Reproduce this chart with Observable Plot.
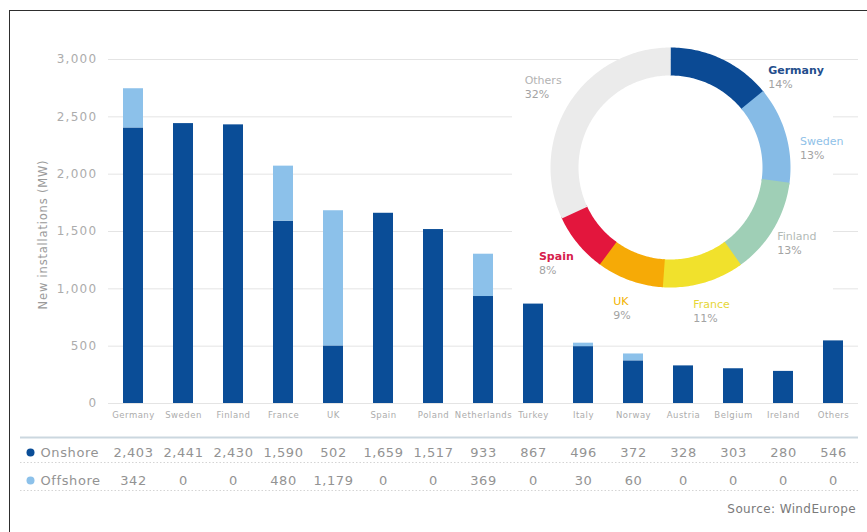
<!DOCTYPE html>
<html>
<head>
<meta charset="utf-8">
<script src="https://cdn.jsdelivr.net/npm/d3@7"></script>
<script src="https://cdn.jsdelivr.net/npm/@observablehq/plot@0.6"></script>
<style>
  html, body { margin: 0; padding: 0; background: #fff; }
  #wrap { position: relative; width: 867px; height: 532px; overflow: hidden; background: #fff; font-family: "DejaVu Sans", sans-serif; }
  #frame { position: absolute; left: 9px; top: 10px; width: 900px; height: 600px; border-top: 1.5px solid #2e2e2e; border-left: 1.5px solid #2e2e2e; pointer-events: none; z-index: 10; }
  #bars { position: absolute; left: 0; top: 0; z-index: 1; }
  #mask { position: absolute; left: 512px; top: 64px; width: 321px; height: 232px; background: #fff; z-index: 2; }
  #donut { position: absolute; left: 500px; top: 17px; z-index: 3; }
  #table { position: absolute; left: 0; top: 430px; z-index: 1; }
  #source { position: absolute; right: 11px; top: 502px; font-size: 12px; color: #7a7a7a; letter-spacing: 0.4px; z-index: 4; }
  #bars g[aria-label="y-axis tick label"] text { letter-spacing: 1.3px; }
  #bars g[aria-label="x-axis tick label"] text { letter-spacing: 0.5px; }
  #bars g[aria-label="text"] text { letter-spacing: 0.8px; }
  #table text { letter-spacing: 0.6px; }
  svg { overflow: visible; }
</style>
</head>
<body>
<div id="wrap">
  <div id="bars"></div>
  <div id="table"></div>
  <div id="mask"></div>
  <div id="donut"></div>
  <div id="source">Source: WindEurope</div>
  <div id="frame"></div>
</div>
<script>
// ---------- data ----------
const countries = ["Germany", "Sweden", "Finland", "France", "UK", "Spain", "Poland", "Netherlands", "Turkey", "Italy", "Norway", "Austria", "Belgium", "Ireland", "Others"];
const onshore  = [2403, 2441, 2430, 1590, 502, 1659, 1517, 933, 867, 496, 372, 328, 303, 280, 546];
const offshore = [342, 0, 0, 480, 1179, 0, 0, 369, 0, 30, 60, 0, 0, 0, 0];
const seriesNames = ["Onshore", "Offshore"];
const yTicks = [0, 500, 1000, 1500, 2000, 2500, 3000];
const yLabel = "New installations (MW)";

const shareCountries = ["Germany", "Sweden", "Finland", "France", "UK", "Spain", "Others"];
const sharePct = [14, 13, 13, 11, 9, 8, 32];

// ---------- styles ----------
const seriesColors = ["#0a4d97", "#8cc1ea"];
const ringColors  = ["#0b4a94", "#86bbe6", "#9fcfb6", "#f1e12c", "#f6aa06", "#e3163d", "#ebebeb"];
const labelColors = ["#234d8c", "#8fc1e8", "#b2bab6", "#e6d636", "#f2b300", "#d6204c", "#b3b3b3"];
const boldLabels = new Set(["Germany", "Spain"]);
const labelAngleNudge = {Germany: 28, Sweden: 9};
const FONT = "DejaVu Sans, sans-serif";
const fmt = d3.format(",");

const table = countries.flatMap((c, i) => [
  {country: c, type: seriesNames[0], value: onshore[i]},
  {country: c, type: seriesNames[1], value: offshore[i]}
]);

const xScale = {domain: countries, paddingInner: 0.6, paddingOuter: 0.3, align: 0.5};

// ---------- bar chart ----------
const bars = Plot.plot({
  width: 867, height: 430,
  marginLeft: 108, marginRight: 9, marginTop: 59, marginBottom: 27,
  style: {background: "transparent", fontFamily: FONT},
  x: {...xScale, label: null},
  y: {domain: [0, 3000], label: null},
  color: {domain: seriesNames, range: seriesColors},
  marks: [
    Plot.gridY(yTicks, {stroke: "#e4e4e4", strokeOpacity: 1, strokeWidth: 1}),
    Plot.barY(table, {x: "country", y: "value", fill: "type"}),
    Plot.axisY(yTicks, {tickSize: 0, tickPadding: 11, tickFormat: fmt, fontSize: 12, fill: "#acacac", label: null}),
    Plot.axisX({tickSize: 0, tickPadding: 8, fontSize: 8.5, fill: "#acacac", label: null}),
    Plot.text([yLabel], {frameAnchor: "left", dx: -65, dy: 3, rotate: -90, textAnchor: "middle", text: d => d, fontSize: 11.5, fill: "#9a9a9a"})
  ]
});
document.getElementById("bars").appendChild(bars);

// ---------- table ----------
const tbl = Plot.plot({
  width: 867, height: 102,
  marginLeft: 20, marginRight: 9, marginTop: 0, marginBottom: 0,
  style: {background: "transparent", fontFamily: FONT},
  x: {...xScale, range: [108, 858], axis: null},
  y: {type: "point", domain: seriesNames, range: [22, 50], padding: 0, axis: null},
  color: {domain: seriesNames, range: seriesColors},
  marks: [
    Plot.ruleY([seriesNames[0]], {y: d => d, dy: -15, stroke: "#cbd7df", strokeWidth: 2}),
    Plot.ruleY(seriesNames, {y: d => d, dy: 10, stroke: "#d4d4d4", strokeDasharray: "1.5,2"}),
    Plot.dot(seriesNames, {y: d => d, frameAnchor: "left", dx: 10, r: 4, fill: d => d, stroke: null}),
    Plot.text(seriesNames, {y: d => d, frameAnchor: "left", dx: 20, textAnchor: "start", text: d => d, fill: "#939393", fontSize: 13}),
    Plot.text(table, {x: "country", y: "type", text: d => fmt(d.value), fill: "#939393", fontSize: 13})
  ]
});
document.getElementById("table").appendChild(tbl);

// ---------- donut ----------
const total = d3.sum(sharePct);
let acc = 0;
const segs = shareCountries.map((c, i) => {
  const s = acc / total; acc += sharePct[i];
  return {c, i, s, e: acc / total};
});
const R_MID = 106, RING_W = 28, LABEL_R = 150;
const arcPts = segs.flatMap(g => {
  const ext = g.i < segs.length - 1 ? 0.003 : 0;
  const n = Math.max(2, Math.ceil((g.e - g.s) * 360));
  return d3.range(n + 1).map(k => {
    const a = 2 * Math.PI * (g.s + (g.e + ext - g.s) * k / n);
    return {c: g.c, i: g.i, x: R_MID * Math.sin(a), y: -R_MID * Math.cos(a)};
  });
});
const labels = segs.map(g => {
  const deg = 360 * (g.s + g.e) / 2 + (labelAngleNudge[g.c] || 0);
  const a = deg * Math.PI / 180;
  const cx = LABEL_R * Math.sin(a), cy = -LABEL_R * Math.cos(a);
  return {c: g.c, i: g.i, pct: sharePct[g.i] + "%", x: cx - g.c.length * 3.2, y: cy};
});

const donut = Plot.plot({
  width: 367, height: 320,
  margin: 0,
  style: {background: "transparent", fontFamily: FONT},
  x: {type: "linear", domain: [-170, 197], range: [0, 367], axis: null},
  y: {type: "linear", domain: [-150, 170], range: [0, 320], axis: null},
  color: {type: "identity"},
  marks: [
    Plot.line(arcPts, {x: "x", y: "y", z: "c", stroke: d => ringColors[d.i], strokeWidth: RING_W, strokeLinecap: "butt", strokeLinejoin: "round", curve: "linear"}),
    Plot.text(labels.filter(d => boldLabels.has(d.c)), {x: "x", y: "y", dy: -7, text: "c", textAnchor: "start", fill: d => labelColors[d.i], fontSize: 11, fontWeight: "bold"}),
    Plot.text(labels.filter(d => !boldLabels.has(d.c)), {x: "x", y: "y", dy: -7, text: "c", textAnchor: "start", fill: d => labelColors[d.i], fontSize: 11}),
    Plot.text(labels, {x: "x", y: "y", dy: 7, text: "pct", textAnchor: "start", fill: "#a3a3a3", fontSize: 11})
  ]
});
document.getElementById("donut").appendChild(donut);
</script>
</body>
</html>
